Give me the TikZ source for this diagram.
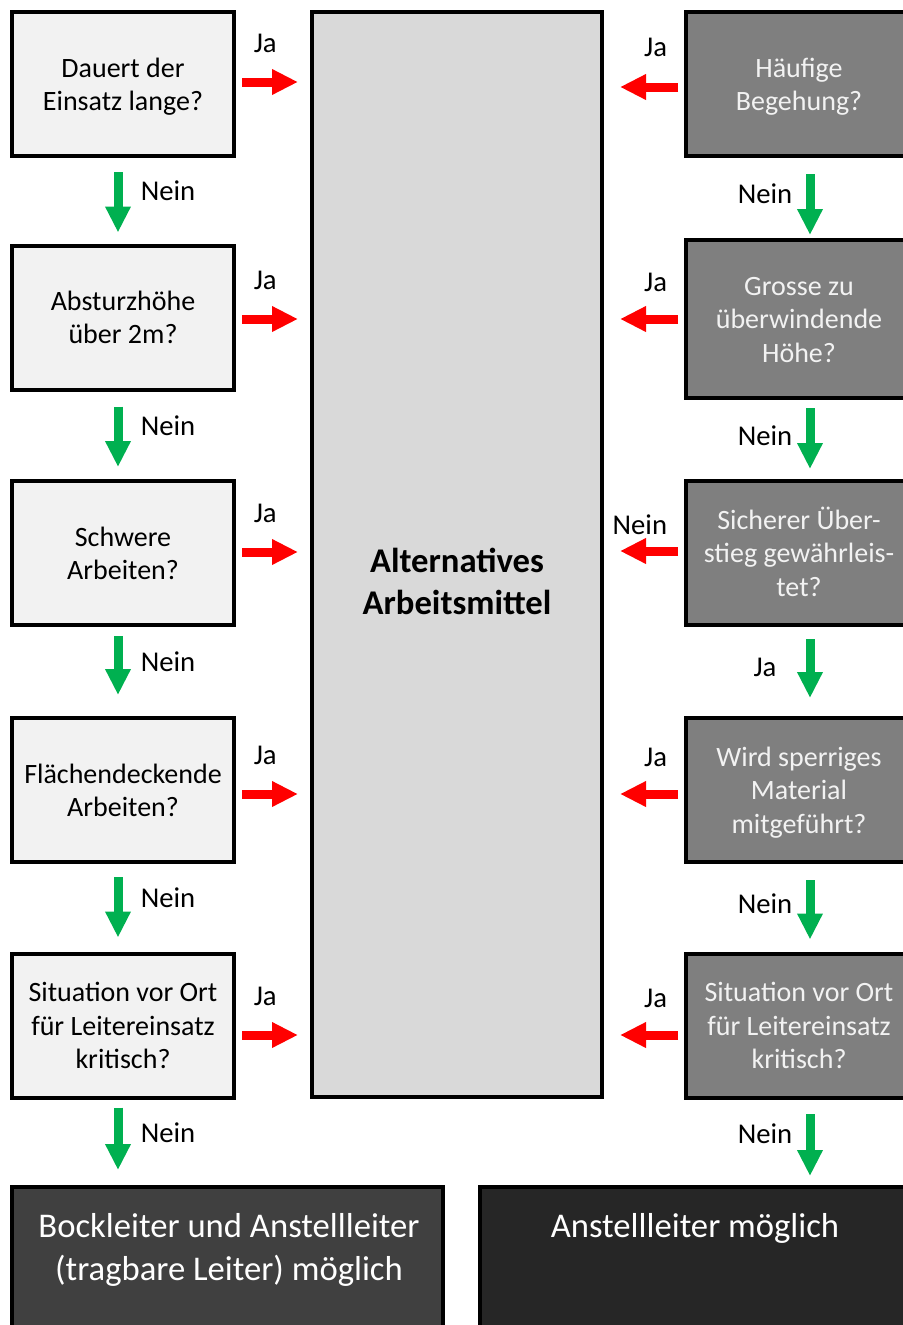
\documentclass[tikz,border=0pt]{standalone}
\usepackage{fontspec}
\setmainfont{Carlito}
\usetikzlibrary{arrows.meta,positioning}

\definecolor{leftgray}{RGB}{242,242,242}
\definecolor{midgray}{RGB}{217,217,217}
\definecolor{rightgray}{RGB}{127,127,127}
\definecolor{lighttext}{RGB}{242,242,242}
\definecolor{bockgray}{RGB}{64,64,64}
\definecolor{anstellgray}{RGB}{38,38,38}
\definecolor{jared}{RGB}{255,0,0}
\definecolor{neingreen}{RGB}{0,176,80}

\newcommand\boxstrut{\rule[-5.25pt]{0pt}{25pt}}

\begin{document}
\begin{tikzpicture}[x=0.75pt, y=-0.75pt,
    box/.style={draw=black, line width=3pt, align=center, inner sep=0pt,
      font=\fontsize{21}{25}\selectfont},
    qleft/.style={box, fill=leftgray, minimum width=166.5pt, minimum height=108pt},
    qright/.style={box, fill=rightgray, text=lighttext, minimum width=169.5pt},
    midbox/.style={draw=black, line width=3pt, fill=midgray,
      minimum width=217.5pt, minimum height=813.75pt},
    endbox/.style={draw=black, line width=3pt, minimum height=118.5pt},
    endtext/.style={text=white, align=center, font=\fontsize{26}{32.25}\selectfont},
    lbl/.style={inner sep=0pt, text=black, font=\fontsize{21.5}{26}\selectfont},
    ja/.style={draw=jared, line width=6.75pt, -{Triangle[width=18pt,length=19.5pt]}},
    nein/.style={draw=neingreen, line width=6.75pt, -{Triangle[width=18pt,length=19.5pt]}}]

  \useasboundingbox (0,0) rectangle (903,1325);

  % middle column
  \node[midbox] (alt) at (457,554.5) {};
  \node[align=center, font=\bfseries\fontsize{26}{31.5}\selectfont] (alttext) at (457,581)
    {Alternatives\\Arbeitsmittel};

  % end results
  \node[endbox, fill=bockgray, minimum width=323.25pt] (bl) at (227.5,1266) {};
  \node[endbox, fill=anstellgray, minimum width=324pt] (br) at (696,1266) {};
  \node[endtext] (bltext) at (229,1250) {Bockleiter und Anstellleiter\\(tragbare Leiter) möglich};
  \node[endtext] (brtext) at (695,1228) {Anstellleiter möglich};

  % left questions
  \foreach \i/\y/\txt in {1/84/{Dauert der\\Einsatz lange?},
      2/317.5/{Absturzhöhe\\über 2m?},
      3/553/{Schwere\\Arbeiten?},
      4/790/{Flächendeckende\\Arbeiten?},
      5/1025.5/{Situation vor Ort\\für Leitereinsatz\\kritisch?}}
    \node[qleft] (l\i) at (123,\y) {\boxstrut\txt\boxstrut};

  % right questions
  \foreach \i/\y/\h/\txt in {1/84/108/{Häufige\\Begehung?},
      2/319/118.5/{Grosse zu\\überwindende\\Höhe?},
      3/553/108/{Sicherer Über-\\stieg gewährleis-\\tet?},
      4/790/108/{Wird sperriges\\Material\\mitgeführt?},
      5/1025.5/108/{Situation vor Ort\\für Leitereinsatz\\kritisch?}}
    \node[qright, minimum height=\h pt] (r\i) at (799,\y) {\boxstrut\txt\boxstrut};

  % red arrows into the middle
  \foreach \i/\ay in {1/82, 2/319, 3/552, 4/794, 5/1035}
    \draw[ja, shorten <=4.5pt, shorten >=9pt] (l\i.east |- 0,\ay) -- (alt.west |- 0,\ay)
      node[lbl, pos=.18, anchor=west, yshift=29pt] {Ja};
  \foreach \i/\ay/\dy/\lab in {1/87/30/Ja, 2/319/27.75/Ja, 3/551/19.5/Nein, 4/794/27.75/Ja, 5/1035/27.75/Ja}
    \draw[ja, shorten <=4.5pt, shorten >=12pt] (r\i.west |- 0,\ay) -- (alt.east |- 0,\ay)
      node[lbl, pos=.155, anchor=east, yshift=\dy pt] {\lab};

  % green arrows downwards
  \foreach \i/\j/\s/\e in {1/2/10.5/8.25, 2/3/11.25/9, 3/4/6.75/15.75, 4/5/9.75/10.5}
    \draw[nein, shorten <=\s pt, shorten >=\e pt] ([xshift=-3.75pt]l\i.south) -- ([xshift=-3.75pt]l\j.north)
      node[lbl, midway, xshift=37.5pt, yshift=7.5pt] {Nein};
  \draw[nein, shorten <=6pt, shorten >=11.25pt] ([xshift=-3.75pt]l5.south) -- ([xshift=-3.75pt]l5.south |- bl.north)
    node[lbl, midway, xshift=37.5pt, yshift=7.5pt] {Nein};

  \foreach \i/\j/\s/\e/\lab in {1/2/12/2.25/Nein, 2/3/6/7.5/Nein, 3/4/9/13.5/Ja, 4/5/12/9/Nein}
    \draw[nein, shorten <=\s pt, shorten >=\e pt] ([xshift=8.25pt]r\i.south) -- ([xshift=8.25pt]r\j.north)
      node[lbl, midway, xshift=-33.75pt, yshift=3pt] {\lab};
  \draw[nein, shorten <=11pt, shorten >=6.75pt] ([xshift=8.25pt]r5.south) -- ([xshift=8.25pt]r5.south |- br.north)
    node[lbl, midway, xshift=-33.75pt, yshift=6.75pt] {Nein};
\end{tikzpicture}
\end{document}
